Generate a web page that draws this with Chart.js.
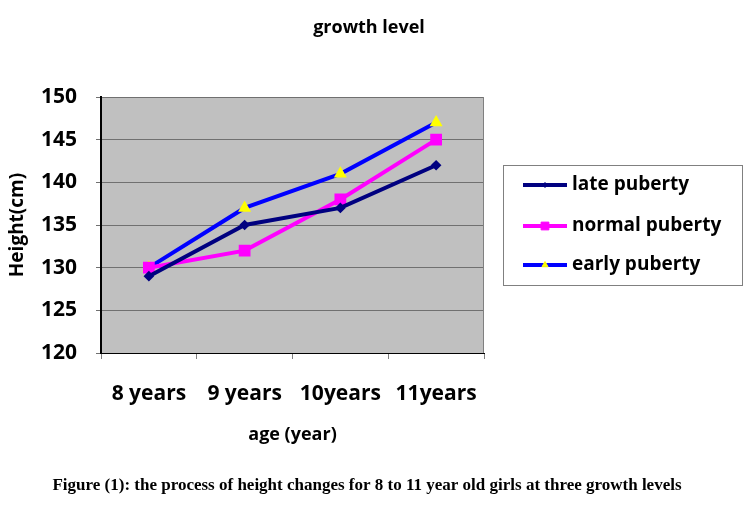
<!DOCTYPE html>
<html>
<head>
<meta charset="utf-8">
<script src="https://cdn.jsdelivr.net/npm/chart.js"></script>
<style>
html, body { margin: 0; padding: 0; background: #fff; }
#wrap { width: 748px; height: 510px; }
</style>
</head>
<body>
<div id="wrap"><canvas id="growthChart"></canvas></div>
<script>
var ageLabels = ["8 years", "9 years", "10years", "11years"];
var latePuberty = [129, 135, 137, 142];
var normalPuberty = [130, 132, 138, 145];
var earlyPuberty = [130, 137, 141, 147];
var yMin = 120, yMax = 150, yStep = 5;
var chartTitle = "growth level";
var captionText = "Figure (1): the process of height changes for 8 to 11 year old girls at three growth levels";

var uiFont = '"Open Sans", "DejaVu Sans", sans-serif';

function drawMarker(ctx, ds, x, y) {
    ctx.fillStyle = ds.pointBackgroundColor;
    ctx.strokeStyle = ds.pointBorderColor;
    ctx.lineWidth = 1;
    var r = ds.pointRadius;
    ctx.beginPath();
    if (ds.pointStyle === 'rect') {
        var s = Math.SQRT1_2 * r;
        ctx.rect(x - s, y - s, 2 * s, 2 * s);
    } else if (ds.pointStyle === 'triangle') {
        ctx.moveTo(x, y - r);
        ctx.lineTo(x + r * 0.866, y + r * 0.5);
        ctx.lineTo(x - r * 0.866, y + r * 0.5);
        ctx.closePath();
    } else {
        ctx.moveTo(x, y - r); ctx.lineTo(x + r, y); ctx.lineTo(x, y + r); ctx.lineTo(x - r, y);
        ctx.closePath();
    }
    ctx.fill();
    ctx.stroke();
}

var plotBox = {
    id: 'plotBox',
    beforeDraw: function(chart) {
        var a = chart.chartArea, ctx = chart.ctx;
        ctx.save();
        ctx.fillStyle = '#c0c0c0';
        ctx.fillRect(a.left, a.top, a.right - a.left, a.bottom - a.top);
        ctx.restore();
    },
    beforeDatasetsDraw: function(chart) {
        var a = chart.chartArea, ctx = chart.ctx;
        ctx.save();
        ctx.strokeStyle = '#808080';
        ctx.lineWidth = 1;
        ctx.beginPath();
        ctx.moveTo(a.right - 0.5, a.top);
        ctx.lineTo(a.right - 0.5, a.bottom);
        ctx.stroke();
        ctx.restore();
    },
    afterDraw: function(chart) {
        var ctx = chart.ctx;
        ctx.save();
        // chart title
        ctx.fillStyle = '#000';
        ctx.font = 'bold 18px ' + uiFont;
        ctx.textAlign = 'center';
        ctx.textBaseline = 'middle';
        ctx.fillText(chartTitle, 369, 28);
        // legend box
        ctx.strokeStyle = '#808080';
        ctx.lineWidth = 1;
        ctx.strokeRect(503.5, 165.5, 239, 120);
        var rows = [185, 226, 265];
        chart.data.datasets.forEach(function(ds, i) {
            var y = rows[i];
            ctx.strokeStyle = ds.borderColor;
            ctx.lineWidth = 4;
            ctx.beginPath();
            ctx.moveTo(523, y);
            ctx.lineTo(567, y);
            ctx.stroke();
            drawMarker(ctx, ds, 545, y);
            ctx.fillStyle = '#000';
            ctx.font = 'bold 19px ' + uiFont;
            ctx.textAlign = 'left';
            ctx.textBaseline = 'middle';
            ctx.fillText(ds.label, 572, y);
        });
        // figure caption
        ctx.fillStyle = '#000';
        ctx.font = 'bold 17px "Liberation Serif", "Times New Roman", serif';
        ctx.textAlign = 'center';
        ctx.textBaseline = 'middle';
        ctx.fillText(captionText, 367, 486);
        ctx.restore();
    }
};

var ctx = document.getElementById("growthChart");
new Chart(ctx, {
    type: 'line',
    data: {
        labels: ageLabels,
        datasets: [{
            label: "late puberty",
            data: latePuberty,
            borderColor: "#000080",
            backgroundColor: "#000080",
            borderWidth: 4,
            pointStyle: 'rectRot',
            pointRadius: 2.5,
            pointBackgroundColor: "#000080",
            pointBorderColor: "#000080",
            tension: 0
        }, {
            label: "normal puberty",
            data: normalPuberty,
            borderColor: "#ff00ff",
            backgroundColor: "#ff00ff",
            borderWidth: 4,
            pointStyle: 'rect',
            pointRadius: 5.5,
            pointBackgroundColor: "#ff00ff",
            pointBorderColor: "#ff00ff",
            tension: 0
        }, {
            label: "early puberty",
            data: earlyPuberty,
            borderColor: "#0000ff",
            backgroundColor: "#0000ff",
            borderWidth: 4,
            pointStyle: 'triangle',
            pointRadius: 3.5,
            pointBackgroundColor: "#ffff00",
            pointBorderColor: "#ffff00",
            tension: 0
        }]
    },
    options: {
        responsive: true,
        maintainAspectRatio: false,
        animation: false,
        layout: { padding: { left: 0, right: 264, top: 97, bottom: 57 } },
        plugins: {
            legend: { display: false },
            tooltip: { enabled: false },
            title: { display: false }
        },
        scales: {
            x: {
                offset: true,
                afterFit: function(scale) { scale.height = 100; },
                grid: {
                    offset: true,
                    drawOnChartArea: false,
                    color: '#808080',
                    tickLength: 6
                },
                border: { color: '#000', width: 1 },
                ticks: {
                    color: '#000',
                    padding: 22,
                    font: { family: uiFont, size: 21, weight: 'bold' }
                },
                title: {
                    display: true,
                    text: "age (year)",
                    color: '#000',
                    font: { family: uiFont, size: 18, weight: 'bold' },
                    padding: { top: 0, bottom: 7 }
                }
            },
            y: {
                min: yMin,
                max: yMax,
                afterFit: function(scale) { scale.width = 101; },
                grid: {
                    color: '#707070',
                    tickLength: 5
                },
                border: { color: '#000', width: 2 },
                ticks: {
                    stepSize: yStep,
                    color: '#000',
                    padding: 19,
                    font: { family: uiFont, size: 21, weight: 'bold' }
                },
                title: {
                    display: true,
                    text: "Height(cm)",
                    color: '#000',
                    font: { family: uiFont, size: 19, weight: 'bold' },
                    padding: { top: 6, bottom: 0 }
                }
            }
        }
    },
    plugins: [plotBox]
});
</script>
</body>
</html>
